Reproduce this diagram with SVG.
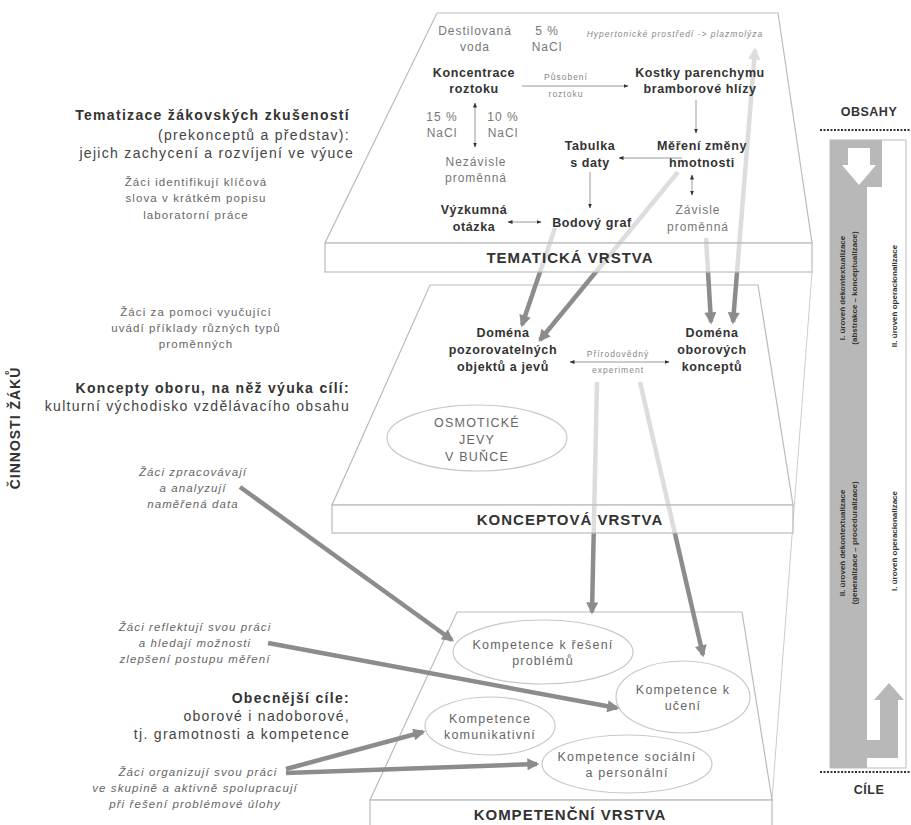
<svg xmlns="http://www.w3.org/2000/svg" width="911" height="825" viewBox="0 0 911 825">
<style>
text{font-family:"Liberation Sans",Arial,sans-serif;}
.b{font-weight:bold;fill:#333;font-size:12.5px;letter-spacing:0.6px;text-anchor:middle;}
.g{fill:#777;font-size:12px;letter-spacing:1px;text-anchor:middle;}
.tiny{fill:#888;font-size:8.5px;letter-spacing:1px;text-anchor:middle;}
.lh{font-weight:bold;fill:#333;font-size:14px;letter-spacing:1.3px;text-anchor:end;}
.lr{fill:#444;font-size:14px;letter-spacing:1.3px;text-anchor:end;}
.ls{fill:#666;font-size:11.5px;letter-spacing:1.1px;text-anchor:middle;}
.li{fill:#666;font-size:11.5px;letter-spacing:1.1px;text-anchor:middle;font-style:italic;}
.band{font-weight:bold;fill:#333;font-size:15px;letter-spacing:1px;text-anchor:middle;}
.plane{fill:#fff;fill-opacity:0.7;stroke:#bbb;stroke-width:1.2;}
.ell{fill:none;stroke:#c8c8c8;stroke-width:1.2;}
.et{fill:#666;font-size:12.5px;letter-spacing:1.2px;text-anchor:middle;}
.thin{stroke:#999;stroke-width:1;fill:none;}
.thick{stroke:#8c8c8c;stroke-width:4.5;fill:none;}
.side{font-weight:bold;fill:#333;font-size:8px;text-anchor:middle;}
</style>
<defs>
<marker id="sm" viewBox="0 0 10 10" refX="9" refY="5" markerWidth="5" markerHeight="5" orient="auto-start-reverse" markerUnits="userSpaceOnUse"><path d="M0,1 L10,5 L0,9 z" fill="#333"/></marker>
<marker id="big" viewBox="0 0 10 10" refX="8" refY="5" markerWidth="14" markerHeight="12" orient="auto-start-reverse" markerUnits="userSpaceOnUse"><path d="M0,0 L10,5 L0,10 z" fill="#8c8c8c"/></marker>
</defs>

<!-- perspective edge joining the layers -->
<line x1="812" y1="272" x2="772" y2="800" stroke="#ccc" stroke-width="1"/>

<!-- bottom layer -->
<g id="layer-kompetencni">
<polygon class="plane" fill-opacity="1" points="457,612 742,612 772,800 370,800"/>
<rect class="plane" fill-opacity="1" x="370" y="800" width="402" height="26"/>
<text class="band" x="570" y="820">KOMPETENČNÍ VRSTVA</text>
</g>
<g id="k-reseni"><ellipse class="ell" cx="543" cy="652" rx="90" ry="32"/><text class="et" x="543" y="649">Kompetence k řešení</text><text class="et" x="543" y="665">problémů</text></g>
<g id="k-uceni"><ellipse class="ell" cx="683" cy="697" rx="67" ry="36"/><text class="et" x="683" y="694">Kompetence k</text><text class="et" x="683" y="710">učení</text></g>
<g id="k-komunikativni"><ellipse class="ell" cx="490" cy="726" rx="65" ry="29"/><text class="et" x="490" y="723">Kompetence</text><text class="et" x="490" y="739">komunikativní</text></g>
<g id="k-socialni"><ellipse class="ell" cx="627" cy="764" rx="85" ry="29"/><text class="et" x="627" y="761">Kompetence sociální</text><text class="et" x="627" y="777">a personální</text></g>

<!-- connectors into the bottom layer -->
<g id="connectors-lower">
<line class="thick" x1="597" y1="382" x2="592" y2="612" marker-end="url(#big)"/>
<line class="thick" x1="640" y1="382" x2="703" y2="655" marker-end="url(#big)"/>
</g>

<!-- middle layer -->
<g id="layer-konceptova">
<polygon class="plane" points="430,285 758,285 793,505 332,505"/>
<rect class="plane" x="332" y="505" width="461" height="28"/>
<text class="band" x="570" y="525">KONCEPTOVÁ VRSTVA</text>
</g>
<g id="domena-pozorovatelnych"><text class="b" x="503" y="337">Doména</text><text class="b" x="503" y="354">pozorovatelných</text><text class="b" x="503" y="371">objektů a jevů</text></g>
<g id="domena-oborovych"><text class="b" x="712" y="337">Doména</text><text class="b" x="712" y="354">oborových</text><text class="b" x="712" y="371">konceptů</text></g>
<g id="osmoticke"><ellipse class="ell" cx="477" cy="438" rx="90" ry="33"/><text class="et" x="477" y="427" font-size="13.5" letter-spacing="1.5">OSMOTICKÉ</text><text class="et" x="477" y="444" font-size="13.5" letter-spacing="1.5">JEVY</text><text class="et" x="477" y="461" font-size="13.5" letter-spacing="1.5">V BUŇCE</text></g>
<g id="experiment">
<line class="thin" x1="570" y1="362" x2="669" y2="362" marker-start="url(#sm)" marker-end="url(#sm)"/>
<text class="tiny" x="618" y="357">Přírodovědný</text><text class="tiny" x="618" y="373">experiment</text>
</g>

<!-- connectors from top layer to middle -->
<g id="connectors-middle">
<line class="thick" x1="555" y1="228" x2="522" y2="325" marker-end="url(#big)"/>
<line class="thick" x1="678" y1="172" x2="540" y2="340" marker-end="url(#big)"/>
<line class="thick" x1="706" y1="238" x2="711" y2="322" marker-end="url(#big)"/>
<line class="thick" x1="755" y1="50" x2="733" y2="322" marker-start="url(#big)" marker-end="url(#big)"/>
</g>

<!-- top layer -->
<g id="layer-tematicka">
<polygon class="plane" points="437,13 778,13 812,243 325,243"/>
<rect class="plane" x="325" y="243" width="487" height="29"/>
<text class="band" x="570" y="263">TEMATICKÁ VRSTVA</text>
</g>
<g id="destilovana"><text class="g" x="475" y="35">Destilovaná</text><text class="g" x="475" y="51">voda</text></g>
<g id="nacl5"><text class="g" x="547" y="35">5 %</text><text class="g" x="547" y="51">NaCl</text></g>
<g id="hypertonicke"><text class="tiny" x="675" y="37" font-style="italic" font-size="9">Hypertonické prostředí -&gt; plazmolýza</text></g>
<g id="koncentrace"><text class="b" x="474" y="77">Koncentrace</text><text class="b" x="474" y="93">roztoku</text></g>
<g id="kostky"><text class="b" x="700" y="77">Kostky parenchymu</text><text class="b" x="700" y="93">bramborové hlízy</text></g>
<g id="nacl15"><text class="g" x="442" y="121">15 %</text><text class="g" x="442" y="137">NaCl</text></g>
<g id="nacl10"><text class="g" x="503" y="121">10 %</text><text class="g" x="503" y="137">NaCl</text></g>
<g id="nezavisle"><text class="g" x="476" y="166">Nezávisle</text><text class="g" x="476" y="182">proměnná</text></g>
<g id="tabulka"><text class="b" x="590" y="150">Tabulka</text><text class="b" x="590" y="167">s daty</text></g>
<g id="mereni"><text class="b" x="702" y="150">Měření změny</text><text class="b" x="702" y="167">hmotnosti</text></g>
<g id="zavisle"><text class="g" x="698" y="214">Závisle</text><text class="g" x="698" y="231">proměnná</text></g>
<g id="vyzkumna"><text class="b" x="474" y="214">Výzkumná</text><text class="b" x="474" y="231">otázka</text></g>
<g id="bodovy"><text class="b" x="592" y="227">Bodový graf</text></g>
<g id="connectors-top">
<line class="thin" x1="522" y1="86" x2="628" y2="86" marker-end="url(#sm)"/>
<text class="tiny" x="566" y="80">Působení</text><text class="tiny" x="566" y="97">roztoku</text>
<line class="thin" x1="696" y1="100" x2="696" y2="133" marker-end="url(#sm)"/>
<line class="thin" x1="475" y1="103" x2="475" y2="147" marker-start="url(#sm)" marker-end="url(#sm)"/>
<line class="thin" x1="682" y1="158" x2="619" y2="158" marker-end="url(#sm)"/>
<line class="thin" x1="692" y1="175" x2="692" y2="195" marker-start="url(#sm)" marker-end="url(#sm)"/>
<line class="thin" x1="590" y1="172" x2="590" y2="208" marker-end="url(#sm)"/>
<line class="thin" x1="508" y1="222" x2="541" y2="222" marker-start="url(#sm)" marker-end="url(#sm)"/>
</g>

<!-- left side -->
<g id="left-tematizace">
<text class="lh" x="350" y="120">Tematizace žákovských zkušeností</text>
<text class="lr" x="350" y="140">(prekonceptů a představ):</text>
<text class="lr" x="354" y="158">jejich zachycení a rozvíjení ve výuce</text>
</g>
<g id="left-identifikuji"><text class="ls" x="196" y="186">Žáci identifikují klíčová</text><text class="ls" x="196" y="202">slova v krátkém popisu</text><text class="ls" x="196" y="219">laboratorní práce</text></g>
<g id="left-pomoci"><text class="ls" x="196" y="316">Žáci za pomoci vyučující</text><text class="ls" x="196" y="332">uvádí příklady různých typů</text><text class="ls" x="196" y="348">proměnných</text></g>
<g id="left-koncepty">
<text class="lh" x="350" y="393">Koncepty oboru, na něž výuka cílí:</text>
<text class="lr" x="350" y="411">kulturní východisko vzdělávacího obsahu</text>
</g>
<g id="left-zpracovavaji"><text class="li" x="193" y="476">Žáci zpracovávají</text><text class="li" x="193" y="492">a analyzují</text><text class="li" x="193" y="508">naměřená data</text></g>
<g id="left-reflektuji"><text class="li" x="195" y="631">Žáci reflektují svou práci</text><text class="li" x="195" y="647">a hledají možnosti</text><text class="li" x="195" y="663">zlepšení postupu měření</text></g>
<g id="left-obecnejsi">
<text class="lh" x="350" y="703">Obecnější cíle:</text>
<text class="lr" x="350" y="721">oborové i nadoborové,</text>
<text class="lr" x="350" y="739">tj. gramotnosti a kompetence</text>
</g>
<g id="left-organizuji"><text class="li" x="198" y="776">Žáci organizují svou práci</text><text class="li" x="195" y="792">ve skupině a aktivně spolupracují</text><text class="li" x="195" y="808">při řešení problémové úlohy</text></g>
<g id="cinnosti"><text transform="translate(20,428) rotate(-90)" font-weight="bold" font-size="14" letter-spacing="1" fill="#333" text-anchor="middle">ČINNOSTI ŽÁKŮ</text></g>

<g id="connectors-left">
<line class="thick" x1="240" y1="487" x2="452" y2="640" marker-end="url(#big)"/>
<line class="thick" x1="268" y1="643" x2="617" y2="708" marker-end="url(#big)"/>
<line class="thick" x1="286" y1="769" x2="423" y2="732" marker-end="url(#big)"/>
<line class="thick" x1="286" y1="773" x2="537" y2="764" marker-end="url(#big)"/>
</g>

<!-- right sidebar -->
<g id="sidebar">
<text x="869" y="116" font-weight="bold" font-size="12.5" letter-spacing="0.5" fill="#333" text-anchor="middle">OBSAHY</text>
<line x1="820" y1="130" x2="911" y2="130" stroke="#333" stroke-width="2" stroke-dasharray="2,1.5"/>
<rect x="830" y="140" width="76" height="628" fill="#fff" stroke="#bbb" stroke-width="1"/>
<rect x="830" y="140" width="37" height="628" fill="#b8b8b8"/>
<path d="M867,140 H882 V187 H867 z" fill="#b8b8b8"/>
<path d="M848,148 H870 V165 H876 L859,185 L842,165 H848 z" fill="#fff"/>
<path d="M867,740 H880 V700 H874 L889,683 L904,700 H898 V758 H867 z" fill="#b8b8b8"/>
<text class="side" transform="translate(845,288) rotate(-90)">I. úroveň dekontextualizace</text>
<text class="side" transform="translate(857,288) rotate(-90)">(abstrakce – konceptualizace)</text>
<text class="side" transform="translate(897,296) rotate(-90)">II. úroveň operacionalizace</text>
<text class="side" transform="translate(845,543) rotate(-90)">II. úroveň dekontextualizace</text>
<text class="side" transform="translate(857,543) rotate(-90)">(generalizace – proceduralizace)</text>
<text class="side" transform="translate(897,541) rotate(-90)">I. úroveň operacionalizace</text>
<line x1="820" y1="772" x2="911" y2="772" stroke="#333" stroke-width="2" stroke-dasharray="2,1.5"/>
<text x="869" y="794" font-weight="bold" font-size="12.5" letter-spacing="0.5" fill="#333" text-anchor="middle">CÍLE</text>
</g>
</svg>
